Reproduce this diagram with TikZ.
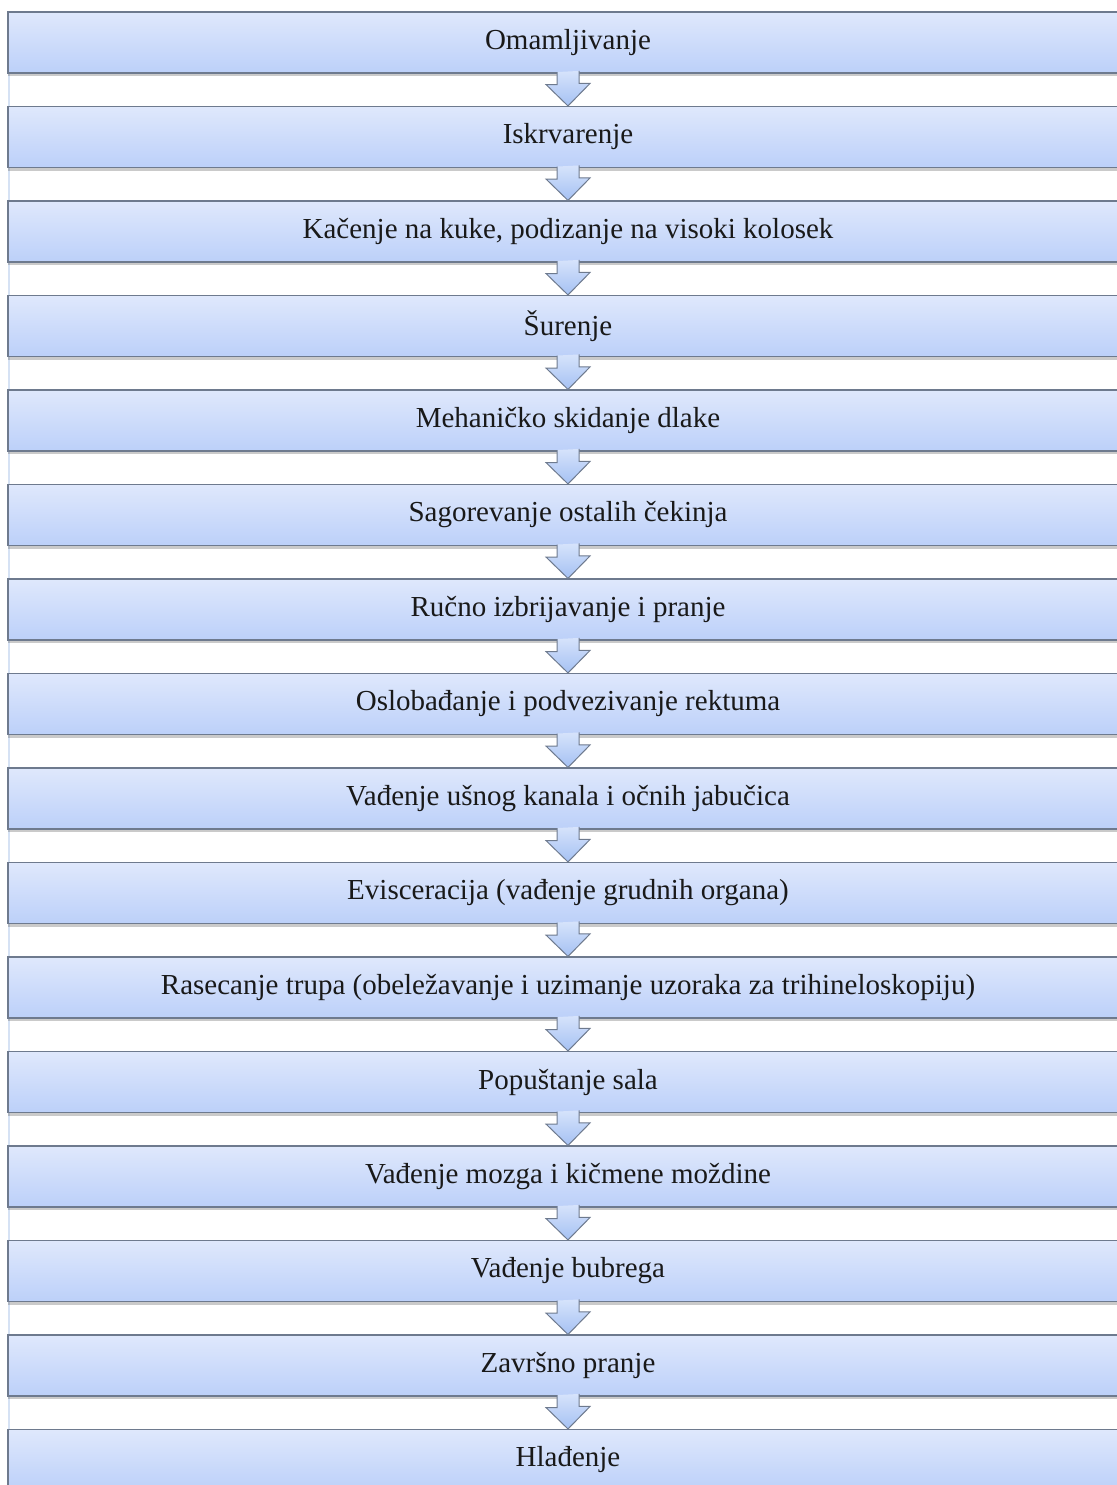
\documentclass[tikz,border=0pt]{standalone}
\usepackage{fontspec}
\setmainfont{Liberation Serif}
\usetikzlibrary{positioning,shadows}

\definecolor{boxtop}{RGB}{223,232,252}
\definecolor{boxbottom}{RGB}{188,208,249}
\definecolor{boxline}{RGB}{110,122,142}
\definecolor{arrowtop}{RGB}{214,227,251}
\definecolor{arrowbottom}{RGB}{165,193,243}
\definecolor{sideline}{RGB}{214,226,244}

\begin{document}
\begin{tikzpicture}[x=1pt, y=1pt, node distance=32.4pt,
  stage/.style = {shape=rectangle, draw=boxline, line width=1.1pt,
    minimum width=1120pt, minimum height=61pt, inner sep=0pt,
    top color=boxtop, bottom color=boxbottom, text=black!90,
    font=\fontsize{29}{33}\selectfont,
    drop shadow={shadow xshift=0pt, shadow yshift=-3pt, opacity=.35, fill=black!60}},
  flowarrow/.style = {draw=boxline, line width=1pt, line join=miter,
    top color=arrowtop, bottom color=arrowbottom}]

  \useasboundingbox (0,0) rectangle (1116,-1485);
  \draw[sideline, line width=1.2pt] (9,-73) -- (9,-1485);

  \node[stage] (s1) at (568,-42.5) {Omamljivanje};
  \node[stage, below=of s1] (s2) {Iskrvarenje};
  \node[stage, below=of s2] (s3) {Kačenje na kuke, podizanje na visoki kolosek};
  \node[stage, below=of s3] (s4) {Šurenje};
  \node[stage, below=of s4] (s5) {Mehaničko skidanje dlake};
  \node[stage, below=of s5] (s6) {Sagorevanje ostalih čekinja};
  \node[stage, below=of s6] (s7) {Ručno izbrijavanje i pranje};
  \node[stage, below=of s7] (s8) {Oslobađanje i podvezivanje rektuma};
  \node[stage, below=of s8] (s9) {Vađenje ušnog kanala i očnih jabučica};
  \node[stage, below=of s9] (s10) {Evisceracija (vađenje grudnih organa)};
  \node[stage, below=of s10] (s11) {Rasecanje trupa (obeležavanje i uzimanje uzoraka za trihineloskopiju)};
  \node[stage, below=of s11] (s12) {Popuštanje sala};
  \node[stage, below=of s12] (s13) {Vađenje mozga i kičmene moždine};
  \node[stage, below=of s13] (s14) {Vađenje bubrega};
  \node[stage, below=of s14] (s15) {Završno pranje};
  \node[stage, below=of s15] (s16) {Hlađenje};

  % block arrows between the stages
  \foreach \i in {1,...,15}{
    \pgfmathtruncatemacro\j{\i+1}
    \path[flowarrow] ([xshift=-11pt, yshift=1.5pt]s\i.south) -- ++(0,-12.5) -- ++(-11,0)
      -- (s\j.north) -- ++(22,22.5) -- ++(-11,0) -- ++(0,12.5);
  }
\end{tikzpicture}
\end{document}
